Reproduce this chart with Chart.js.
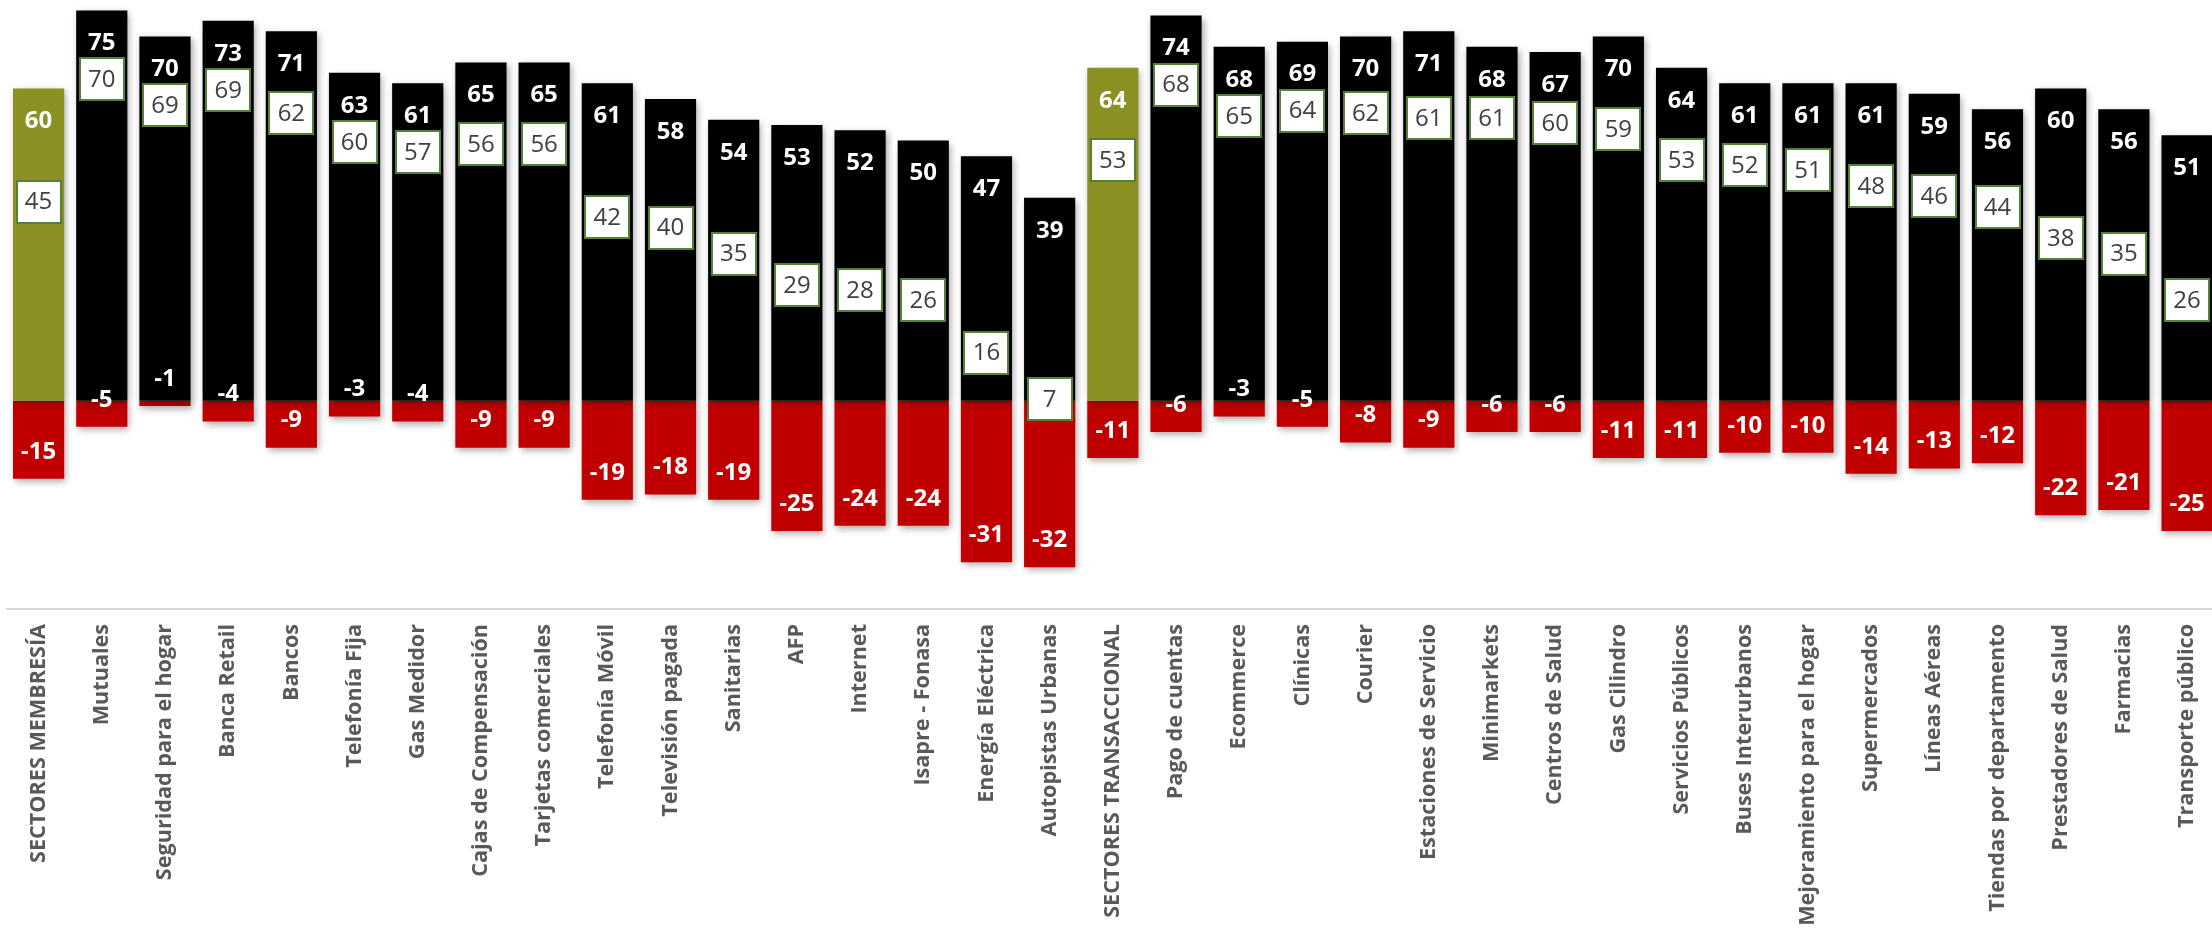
<!DOCTYPE html>
<html lang="es">
<head>
<meta charset="utf-8">
<title>Satisfacción por sector</title>
<script src="https://cdn.jsdelivr.net/npm/chart.js@4.4.1/dist/chart.umd.min.js"></script>
<style>
  html, body { margin: 0; padding: 0; background: #fff; overflow: hidden; }
  #wrap { width: 2228px; height: 937px; }
</style>
</head>
<body>
<div id="wrap"><canvas id="sectorChart" width="2228" height="937"></canvas></div>
<script>
// Sectores evaluados (los "SECTORES ..." son promedios de grupo)
const sectores = [
    'SECTORES MEMBRESÍA', 'Mutuales', 'Seguridad para el hogar', 'Banca Retail', 'Bancos',
    'Telefonía Fija', 'Gas Medidor', 'Cajas de Compensación', 'Tarjetas comerciales',
    'Telefonía Móvil', 'Televisión pagada', 'Sanitarias', 'AFP', 'Internet', 'Isapre - Fonasa',
    'Energía Eléctrica', 'Autopistas Urbanas', 'SECTORES TRANSACCIONAL', 'Pago de cuentas',
    'Ecommerce', 'Clínicas', 'Courier', 'Estaciones de Servicio', 'Minimarkets',
    'Centros de Salud', 'Gas Cilindro', 'Servicios Públicos', 'Buses Interurbanos',
    'Mejoramiento para el hogar', 'Supermercados', 'Líneas Aéreas', 'Tiendas por departamento',
    'Prestadores de Salud', 'Farmacias', 'Transporte público'
];

// % evaluaciones positivas
const positivos = [60, 75, 70, 73, 71, 63, 61, 65, 65, 61, 58, 54, 53, 52, 50, 47, 39,
    64, 74, 68, 69, 70, 71, 68, 67, 70, 64, 61, 61, 61, 59, 56, 60, 56, 51];

// % evaluaciones negativas
const negativos = [-15, -5, -1, -4, -9, -3, -4, -9, -9, -19, -18, -19, -25, -24, -24, -31, -32,
    -11, -6, -3, -5, -8, -9, -6, -6, -11, -11, -10, -10, -14, -13, -12, -22, -21, -25];

// Saldo neto (positivos - negativos)
const neto = [45, 70, 69, 69, 62, 60, 57, 56, 56, 42, 40, 35, 29, 28, 26, 16, 7,
    53, 68, 65, 64, 62, 61, 61, 60, 59, 53, 52, 51, 48, 46, 44, 38, 35, 26];

const OLIVA = '#8A9022';
const NEGRO = '#000000';
const ROJO = '#C00000';
const VERDE_BORDE = '#548235';
const FUENTE = '"Open Sans", "DejaVu Sans", sans-serif';

const coloresPositivos = sectores.map(s => s.startsWith('SECTORES') ? OLIVA : NEGRO);

// sombra suave bajo las barras
const sombraBarras = {
    id: 'sombraBarras',
    beforeDatasetsDraw(chart) {
        const ctx = chart.ctx;
        ctx.save();
        ctx.shadowColor = 'rgba(0,0,0,0.35)';
        ctx.shadowBlur = 7;
        ctx.shadowOffsetX = 2;
        ctx.shadowOffsetY = 3;
    },
    afterDatasetsDraw(chart) {
        chart.ctx.restore();
    }
};

// etiquetas de valor: extremos de barra y cuadro con el neto
const etiquetas = {
    id: 'etiquetas',
    afterDatasetsDraw(chart) {
        const ctx = chart.ctx;
        const yScale = chart.scales.y;
        const barrasPos = chart.getDatasetMeta(0).data;
        const barrasNeg = chart.getDatasetMeta(1).data;

        ctx.save();
        ctx.textAlign = 'center';
        ctx.textBaseline = 'middle';
        ctx.fillStyle = '#FFFFFF';
        ctx.font = 'bold 24px ' + FUENTE;
        barrasPos.forEach((bar, i) => ctx.fillText(String(positivos[i]), bar.x, bar.y + 33));
        barrasNeg.forEach((bar, i) => ctx.fillText(String(negativos[i]), bar.x, bar.y - 27));

        const w = 46, h = 44;
        ctx.font = '24px ' + FUENTE;
        barrasPos.forEach((bar, i) => {
            let cy = yScale.getPixelForValue(neto[i]) + 35;
            const finEtiqueta = bar.y + 33 + 12;
            if (cy - h / 2 < finEtiqueta + 2) cy = finEtiqueta + h / 2 + 2;
            const x0 = Math.round(bar.x - w / 2), y0 = Math.round(cy - h / 2);
            ctx.fillStyle = '#FFFFFF';
            ctx.fillRect(x0, y0, w, h);
            ctx.strokeStyle = VERDE_BORDE;
            ctx.lineWidth = 2;
            ctx.strokeRect(x0 + 1, y0 + 1, w - 2, h - 2);
            ctx.fillStyle = '#404040';
            ctx.fillText(String(neto[i]), bar.x, cy + 1);
        });
        ctx.restore();
    }
};

new Chart(document.getElementById('sectorChart'), {
    type: 'bar',
    data: {
        labels: sectores,
        datasets: [
            { label: 'Positivos', data: positivos, backgroundColor: coloresPositivos,
              barPercentage: 0.81, categoryPercentage: 1, stack: 'eval' },
            { label: 'Negativos', data: negativos, backgroundColor: ROJO,
              barPercentage: 0.81, categoryPercentage: 1, stack: 'eval' }
        ]
    },
    options: {
        responsive: false,
        animation: false,
        devicePixelRatio: 1,
        layout: { padding: { left: 7, right: 0, top: 0, bottom: 0 } },
        plugins: { legend: { display: false }, tooltip: { enabled: false } },
        scales: {
            x: {
                stacked: true,
                grid: { display: false, drawTicks: false },
                border: { display: true, color: '#D9D9D9', width: 2 },
                ticks: {
                    autoSkip: false, minRotation: 90, maxRotation: 90, padding: 15,
                    color: '#595959',
                    font: { family: FUENTE, size: 21.6, weight: 'bold' }
                },
                afterFit(scale) { scale.height = 328; }
            },
            y: { stacked: true, display: false, min: -40, max: 77 }
        }
    },
    plugins: [sombraBarras, etiquetas]
});
</script>
</body>
</html>
